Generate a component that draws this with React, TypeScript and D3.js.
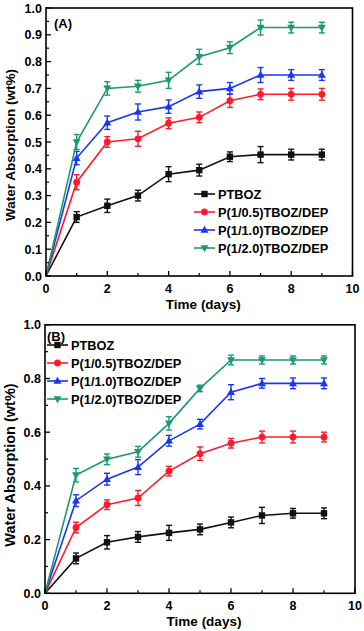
import React from "react";
import * as d3 from "d3";

const days = [0, 1, 2, 3, 4, 5, 6, 7, 8, 9];
const seriesNames = ["PTBOZ", "P(1/0.5)TBOZ/DEP", "P(1/1.0)TBOZ/DEP", "P(1/2.0)TBOZ/DEP"];
const seriesColors = ["#111111", "#ff1a2a", "#1a36f5", "#1a9a70"];
const seriesMarkers = ["square", "circle", "triUp", "triDown"];

// Panel A
const aPTBOZ = [0, 0.22, 0.262, 0.30, 0.38, 0.395, 0.445, 0.453, 0.453, 0.453];
const aP05 = [0, 0.35, 0.50, 0.512, 0.57, 0.592, 0.654, 0.678, 0.678, 0.678];
const aP10 = [0, 0.44, 0.572, 0.612, 0.632, 0.688, 0.70, 0.75, 0.75, 0.75];
const aP20 = [0, 0.50, 0.70, 0.708, 0.73, 0.818, 0.852, 0.927, 0.927, 0.927];
const aErrPTBOZ = [0, 0.02, 0.025, 0.02, 0.028, 0.022, 0.018, 0.03, 0.02, 0.02];
const aErrP05 = [0, 0.028, 0.02, 0.028, 0.02, 0.02, 0.025, 0.02, 0.022, 0.022];
const aErrP10 = [0, 0.025, 0.025, 0.03, 0.025, 0.025, 0.022, 0.028, 0.02, 0.02];
const aErrP20 = [0, 0.028, 0.025, 0.022, 0.03, 0.028, 0.022, 0.028, 0.02, 0.02];

// Panel B
const bPTBOZ = [0, 0.13, 0.19, 0.21, 0.225, 0.238, 0.264, 0.29, 0.298, 0.298];
const bP05 = [0, 0.245, 0.33, 0.355, 0.455, 0.52, 0.559, 0.582, 0.582, 0.582];
const bP10 = [0, 0.345, 0.425, 0.47, 0.568, 0.63, 0.749, 0.782, 0.782, 0.782];
const bP20 = [0, 0.44, 0.499, 0.527, 0.633, 0.763, 0.869, 0.869, 0.869, 0.869];
const bErrPTBOZ = [0, 0.02, 0.025, 0.02, 0.028, 0.02, 0.02, 0.03, 0.018, 0.02];
const bErrP05 = [0, 0.02, 0.018, 0.028, 0.018, 0.025, 0.018, 0.022, 0.022, 0.018];
const bErrP10 = [0, 0.022, 0.022, 0.028, 0.02, 0.018, 0.028, 0.018, 0.02, 0.02];
const bErrP20 = [0, 0.025, 0.02, 0.02, 0.025, 0.012, 0.018, 0.015, 0.015, 0.015];

const xTicks = [0, 2, 4, 6, 8, 10];
const xMinor = [1, 3, 5, 7, 9];
const aYTicks = [0, 0.1, 0.2, 0.3, 0.4, 0.5, 0.6, 0.7, 0.8, 0.9, 1.0];
const aYMinor = [0.05, 0.15, 0.25, 0.35, 0.45, 0.55, 0.65, 0.75, 0.85, 0.95];
const bYTicks = [0, 0.2, 0.4, 0.6, 0.8, 1.0];
const bYMinor = [0.1, 0.3, 0.5, 0.7, 0.9];

const FONT = "'Liberation Sans', Arial, sans-serif";

function Marker({ type, x, y, color }: { type: string; x: number; y: number; color: string }) {
  const s = 3.2;
  if (type === "square") return <rect x={x - s} y={y - s} width={2 * s} height={2 * s} fill={color} />;
  if (type === "circle") return <circle cx={x} cy={y} r={3.4} fill={color} />;
  if (type === "triUp")
    return <path d={`M${x},${y - 4.2}L${x + 4},${y + 2.8}L${x - 4},${y + 2.8}Z`} fill={color} />;
  return <path d={`M${x},${y + 4.2}L${x + 4},${y - 2.8}L${x - 4},${y - 2.8}Z`} fill={color} />;
}

type PanelProps = {
  x0: number; x1: number; y0: number; y1: number;
  series: number[][]; errs: number[][];
  yTicks: number[]; yMinor: number[]; yFmt: (v: number) => string;
  label: string; labelX: number; labelY: number;
  legendX: number; legendY: number; legendLine: number;
  titleCenter: number; titleSize: number;
};

function Panel(p: PanelProps) {
  const x = d3.scaleLinear().domain([0, 10]).range([p.x0, p.x1]);
  const y = d3.scaleLinear().domain([0, 1]).range([p.y0, p.y1]);
  const line = d3.line<number>().x((_, i) => x(days[i])).y((v) => y(v));
  return (
    <g>
      {p.series.map((s, si) => (
        <g key={si}>
          <path d={line(s) || ""} fill="none" stroke={seriesColors[si]} strokeWidth={1.6} />
          {s.map((v, i) =>
            i === 0 ? null : (
              <g key={i} stroke={seriesColors[si]} strokeWidth={1.4}>
                <line x1={x(days[i])} x2={x(days[i])} y1={y(v - p.errs[si][i])} y2={y(v + p.errs[si][i])} />
                <line x1={x(days[i]) - 3} x2={x(days[i]) + 3} y1={y(v - p.errs[si][i])} y2={y(v - p.errs[si][i])} />
                <line x1={x(days[i]) - 3} x2={x(days[i]) + 3} y1={y(v + p.errs[si][i])} y2={y(v + p.errs[si][i])} />
              </g>
            )
          )}
          {s.map((v, i) => (i === 0 ? null : <Marker key={i} type={seriesMarkers[si]} x={x(days[i])} y={y(v)} color={seriesColors[si]} />))}
        </g>
      ))}
      <rect x={p.x0} y={p.y1} width={p.x1 - p.x0} height={p.y0 - p.y1} fill="none" stroke="#000" strokeWidth={1.6} />
      {xTicks.map((t) => (
        <g key={t}>
          <line x1={x(t)} x2={x(t)} y1={p.y0} y2={p.y0 - 5} stroke="#000" strokeWidth={1.3} />
          <text x={x(t)} y={p.y0 + 17} textAnchor="middle" fontFamily={FONT} fontWeight="bold" fontSize={12.5}>{t}</text>
        </g>
      ))}
      {xMinor.map((t) => (
        <line key={t} x1={x(t)} x2={x(t)} y1={p.y0} y2={p.y0 - 3} stroke="#000" strokeWidth={1.2} />
      ))}
      {p.yTicks.map((t) => (
        <g key={t}>
          <line x1={p.x0} x2={p.x0 + 5} y1={y(t)} y2={y(t)} stroke="#000" strokeWidth={1.3} />
          <text x={p.x0 - 4} y={y(t) + 4.5} textAnchor="end" fontFamily={FONT} fontWeight="bold" fontSize={12.5}>{p.yFmt(t)}</text>
        </g>
      ))}
      {p.yMinor.map((t) => (
        <line key={t} x1={p.x0} x2={p.x0 + 3} y1={y(t)} y2={y(t)} stroke="#000" strokeWidth={1.2} />
      ))}
      <text x={(p.x0 + p.x1) / 2 + 4} y={p.y0 + 33} textAnchor="middle" fontFamily={FONT} fontWeight="bold" fontSize={13.5}>Time (days)</text>
      <text transform={`translate(15,${p.titleCenter}) rotate(-90)`} textAnchor="middle" fontFamily={FONT} fontWeight="bold" fontSize={p.titleSize}>Water Absorption (wt%)</text>
      <text x={p.labelX} y={p.labelY} fontFamily={FONT} fontWeight="bold" fontSize={13}>{p.label}</text>
      {seriesNames.map((n, i) => {
        const ly = p.legendY + i * 18;
        return (
          <g key={n}>
            <line x1={p.legendX} x2={p.legendX + p.legendLine} y1={ly} y2={ly} stroke={seriesColors[i]} strokeWidth={1.6} />
            <Marker type={seriesMarkers[i]} x={p.legendX + p.legendLine / 2} y={ly} color={seriesColors[i]} />
            <text x={p.legendX + p.legendLine + 3} y={ly + 4.5} fontFamily={FONT} fontWeight="bold" fontSize={12.8}>{n}</text>
          </g>
        );
      })}
    </g>
  );
}

export default function App() {
  return (
    <svg width={364} height={631} style={{ position: "absolute", left: 0, top: 0, background: "#fff" }}>
      <rect width={364} height={631} fill="#fff" />
      <Panel
        x0={46} x1={352.5} y0={276} y1={8}
        series={[aPTBOZ, aP05, aP10, aP20]}
        errs={[aErrPTBOZ, aErrP05, aErrP10, aErrP20]}
        yTicks={aYTicks} yMinor={aYMinor} yFmt={(v) => v.toFixed(1)}
        label="(A)" labelX={54} labelY={28}
        legendX={194} legendY={194} legendLine={21}
        titleCenter={145} titleSize={13.5}
      />
      <Panel
        x0={45} x1={355} y0={593.3} y1={324.8}
        series={[bPTBOZ, bP05, bP10, bP20]}
        errs={[bErrPTBOZ, bErrP05, bErrP10, bErrP20]}
        yTicks={bYTicks} yMinor={bYMinor} yFmt={(v) => v.toFixed(1)}
        label="(B)" labelX={47} labelY={341}
        legendX={47} legendY={345} legendLine={21}
        titleCenter={465} titleSize={14.5}
      />
    </svg>
  );
}
